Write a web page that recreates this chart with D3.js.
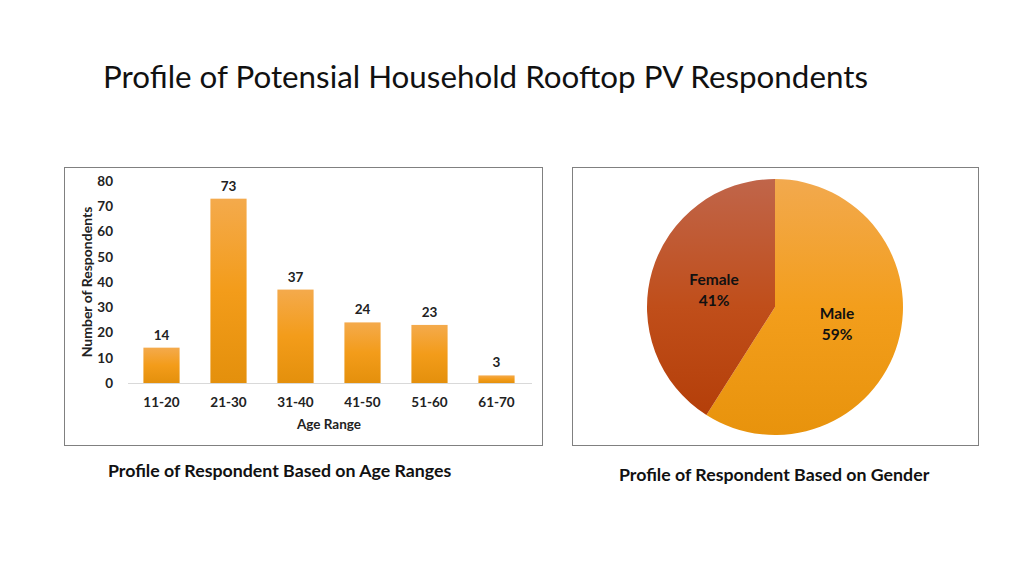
<!DOCTYPE html>
<html><head><meta charset="utf-8">
<script src="https://cdn.jsdelivr.net/npm/d3@7/dist/d3.min.js"></script>
<style>body{margin:0;background:#fff}svg{display:block}</style>
</head><body>
<svg id="c" width="1024" height="576"></svg>
<script>
const ageCategories = ["11-20","21-30","31-40","41-50","51-60","61-70"];
const ageValues = [14,73,37,24,23,3];
const yTicks = [0,10,20,30,40,50,60,70,80];
const genderLabels = ["Male","Female"];
const genderValues = [59,41];

const svg = d3.select("#c");
const font = "Lato, 'Open Sans', sans-serif";

// title
svg.append("text").attr("x",103).attr("y",88)
  .attr("font-family",font).attr("font-size",30).attr("fill","#111")
  .attr("textLength",765).attr("lengthAdjust","spacingAndGlyphs")
  .text("Profile of Potensial Household Rooftop PV Respondents");

// boxes
svg.append("rect").attr("x",64.5).attr("y",167.5).attr("width",478).attr("height",278)
  .attr("fill","#fff").attr("stroke","#808080");
svg.append("rect").attr("x",572.5).attr("y",167.5).attr("width",406).attr("height",278)
  .attr("fill","#fff").attr("stroke","#808080");

const defs = svg.append("defs");
const g1 = defs.append("linearGradient").attr("id","barG").attr("x1",0).attr("y1",0).attr("x2",0).attr("y2",1);
g1.append("stop").attr("offset","0").attr("stop-color","#F4AA4C");
g1.append("stop").attr("offset","0.5").attr("stop-color","#F39C1A");
g1.append("stop").attr("offset","1").attr("stop-color","#E4900C");

const cx=775, cy=307, r=128;
const gm = defs.append("linearGradient").attr("id","maleG").attr("gradientUnits","userSpaceOnUse")
  .attr("x1",0).attr("y1",-r).attr("x2",0).attr("y2",r);
gm.append("stop").attr("offset","0").attr("stop-color","#F2A94E");
gm.append("stop").attr("offset","0.5").attr("stop-color","#F39E1C");
gm.append("stop").attr("offset","1").attr("stop-color","#E8930C");
const gf = defs.append("linearGradient").attr("id","femG").attr("gradientUnits","userSpaceOnUse")
  .attr("x1",0).attr("y1",-r).attr("x2",0).attr("y2",r);
gf.append("stop").attr("offset","0").attr("stop-color","#C0654A");
gf.append("stop").attr("offset","0.5").attr("stop-color","#C04E1A");
gf.append("stop").attr("offset","1").attr("stop-color","#B23C06");

// bar chart
const x = d3.scaleBand().domain(ageCategories).range([128,530]).paddingInner(0.46).paddingOuter(0.23);
const y = d3.scaleLinear().domain([0,80]).range([383,181]);

const lab = 13.5;
const yAxis = svg.append("g").attr("transform","translate(116,0)")
  .call(d3.axisLeft(y).tickValues(yTicks).tickSize(0).tickPadding(3));
yAxis.select(".domain").remove();
yAxis.selectAll("text").attr("font-family",font).attr("font-size",lab).attr("font-weight","bold").attr("fill","#222");

svg.append("line").attr("x1",128).attr("x2",532).attr("y1",383.5).attr("y2",383.5).attr("stroke","#d9d9d9");

svg.selectAll("rect.bar").data(ageValues).enter().append("rect").attr("class","bar")
  .attr("x",(d,i)=>x(ageCategories[i])).attr("width",x.bandwidth())
  .attr("y",d=>y(d)).attr("height",d=>y(0)-y(d)).attr("fill","url(#barG)");

svg.selectAll("text.vl").data(ageValues).enter().append("text").attr("class","vl")
  .attr("x",(d,i)=>x(ageCategories[i])+x.bandwidth()/2).attr("y",d=>y(d)-8)
  .attr("text-anchor","middle").attr("font-family",font).attr("font-size",lab).attr("font-weight","bold").attr("fill","#222")
  .text(d=>d);

const xAxis = svg.append("g").attr("transform","translate(0,383)")
  .call(d3.axisBottom(x).tickSize(0).tickPadding(14));
xAxis.select(".domain").remove();
xAxis.selectAll("text").attr("font-family",font).attr("font-size",lab).attr("font-weight","bold").attr("fill","#222");

svg.append("text").attr("x",329).attr("y",429).attr("text-anchor","middle")
  .attr("font-family",font).attr("font-size",lab).attr("font-weight","bold").attr("fill","#222").text("Age Range");
svg.append("text").attr("transform","translate(92,282) rotate(-90)").attr("text-anchor","middle")
  .attr("font-family",font).attr("font-size",14).attr("font-weight","bold").attr("fill","#222").text("Number of Respondents");

// pie
const pie = d3.pie().sort(null)(genderValues);
const arc = d3.arc().innerRadius(0).outerRadius(r);
const pg = svg.append("g").attr("transform",`translate(${cx},${cy})`);
pg.selectAll("path").data(pie).enter().append("path")
  .attr("d",arc).attr("fill",(d,i)=>i===0?"url(#maleG)":"url(#femG)");

const labelPos = [[62,7],[-61,-27]];
pie.forEach((d,i)=>{
  const t = pg.append("text").attr("text-anchor","middle").attr("font-family",font)
    .attr("font-size",15.5).attr("font-weight","bold").attr("fill","#111");
  t.append("tspan").attr("x",labelPos[i][0]).attr("y",labelPos[i][1]+5).text(genderLabels[i]);
  t.append("tspan").attr("x",labelPos[i][0]).attr("y",labelPos[i][1]+26).text(genderValues[i]+"%");
});

// captions
svg.append("text").attr("x",108).attr("y",477).attr("font-family",font).attr("font-size",17.75)
  .attr("font-weight","bold").attr("fill","#111").text("Profile of Respondent Based on Age Ranges");
svg.append("text").attr("x",619).attr("y",481).attr("font-family",font).attr("font-size",17.75)
  .attr("font-weight","bold").attr("fill","#111").text("Profile of Respondent Based on Gender");
</script>
</body></html>
